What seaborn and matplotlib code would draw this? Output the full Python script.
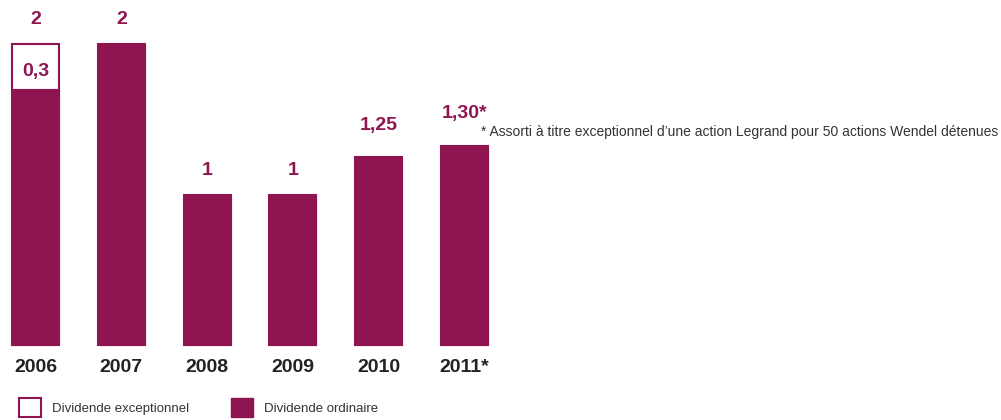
import matplotlib
matplotlib.use("Agg")
import matplotlib.pyplot as plt
import seaborn as sns
import pandas as pd
from matplotlib.patches import Patch

years = ["2006", "2007", "2008", "2009", "2010", "2011*"]
ordinary = [1.7, 2.0, 1.0, 1.0, 1.25, 1.32]
exceptional = [0.3, 0.0, 0.0, 0.0, 0.0, 0.0]
labels = ["2", "2", "1", "1", "1,25", "1,30*"]
exc_label = "0,3"
footnote = "* Assorti à titre exceptionnel d\u2019une action Legrand pour 50 actions Wendel détenues"
legend_labels = ["Dividende exceptionnel", "Dividende ordinaire"]

PURPLE = "#8E1550"
DARK = "#222222"

sns.set_theme(style="white")
plt.rcParams["font.family"] = ["Liberation Sans", "DejaVu Sans"]

totals = [o + e for o, e in zip(ordinary, exceptional)]
df = pd.DataFrame({"year": years, "ordinary": ordinary, "total": totals})

fig = plt.figure(figsize=(10.01, 4.2), dpi=100)
ax = fig.add_axes([0, 0, 1, 1])

sns.barplot(data=df, x="year", y="total", color="white", saturation=1,
            edgecolor=PURPLE, linewidth=1.5, width=0.548, ax=ax)
sns.barplot(data=df, x="year", y="ordinary", color=PURPLE, saturation=1,
            edgecolor=PURPLE, linewidth=0.8, width=0.548, ax=ax)

px = 85.8
ax.set_xlim(-35.5 / px, (1001 - 35.5) / px)
py = 150.5
ax.set_ylim(-75 / py, 345 / py)
ax.axis("off")

bold = dict(fontweight="bold", fontsize=14, color=PURPLE, ha="center")
gaps = [0.13, 0.13, 0.13, 0.13, 0.18, 0.19]
for i, (t, lab) in enumerate(zip(totals, labels)):
    ax.text(i, t + gaps[i], lab, va="baseline", **bold)
# exceptional label inside box
ax.text(0, ordinary[0] + exceptional[0] / 2 - 0.06, exc_label, va="baseline", **bold)

for i, y in enumerate(years):
    ax.text(i, -0.18, y, ha="center", va="baseline",
            fontsize=14, fontweight="bold", color=DARK)

ax.text(5 + 0.19, 1.46, footnote, ha="left", va="top", fontsize=10,
        color="#333333")

handles = [Patch(facecolor="white", edgecolor=PURPLE, linewidth=1.5),
           Patch(facecolor=PURPLE, edgecolor=PURPLE)]
leg = fig.legend(handles, legend_labels, loc="lower left",
                 bbox_to_anchor=(7 / 1001, -9 / 420), ncol=2, frameon=False,
                 handlelength=1.65, handleheight=1.9, handletextpad=0.85,
                 columnspacing=3.2, prop=dict(size=9.5))
for t in leg.get_texts():
    t.set_color("#333333")

fig.savefig("out.png", dpi=100)
